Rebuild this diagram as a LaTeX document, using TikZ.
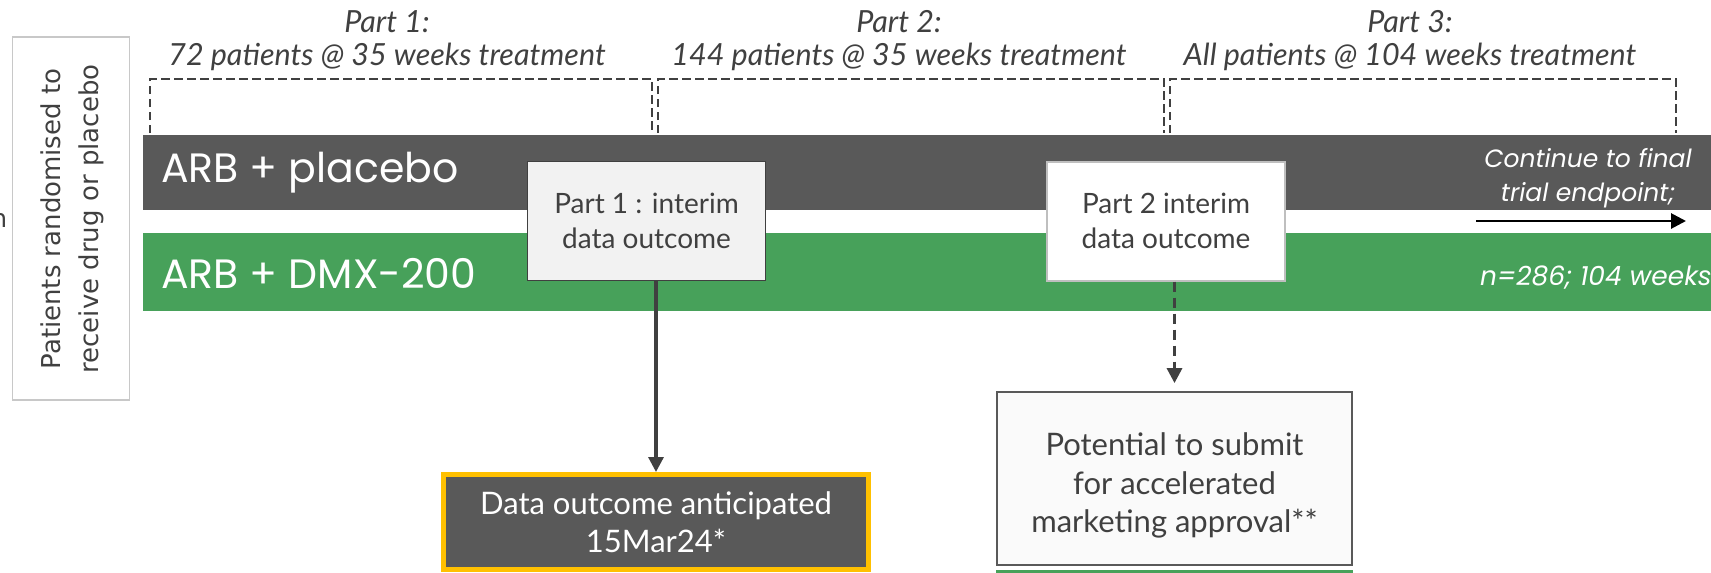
\documentclass[tikz,border=0pt]{standalone}
\usepackage{fontspec}
\setmainfont{Lato}
\newfontfamily\poppins{Poppins}
\newfontfamily\dejavu{DejaVu Sans}
\usetikzlibrary{arrows.meta,calc}
\definecolor{darkbar}{HTML}{595959}
\definecolor{greenbar}{RGB}{71,161,90}
\definecolor{txtgray}{HTML}{404040}
\definecolor{lightbox}{HTML}{F2F2F2}
\definecolor{paleborder}{HTML}{BFBFBF}
\definecolor{leftborder}{HTML}{C8C8C8}
\definecolor{potfill}{HTML}{FAFAFA}
\definecolor{amber}{HTML}{FFC000}
\tikzset{
  barbox/.style={anchor=north west, minimum width=1600, minimum height=75, inner sep=0, draw=none},
  bartext/.style={anchor=west, text=white, inner sep=0, font=\poppins\fontsize{41}{41}\selectfont},
  toplabel/.style={text=txtgray, inner sep=0, font=\itshape\fontsize{30.5}{30}\selectfont},
  bracket/.style={draw=txtgray, line width=2.1pt, dash pattern=on 8.5pt off 4.5pt},
  interim/.style={align=center, text=txtgray, inner sep=0, font=\fontsize{28}{35}\selectfont},
  conn/.style={draw=txtgray, line width=3.2pt, -{Triangle[length=15pt,width=15pt]}},
  whiteit/.style={text=white, inner sep=0, font=\poppins\itshape\fontsize{25}{34}\selectfont, align=center}
}
\begin{document}
\begin{tikzpicture}[x=1pt,y=-1pt]
\useasboundingbox (0,0) rectangle (1711,573);
% fragment at the left edge
\node[anchor=base east, inner sep=0, text=txtgray, font=\dejavu\fontsize{25}{25}\selectfont] (frag) at (7.5,227) {n};
% left box
\node[draw=leftborder, line width=1.5pt, minimum width=117, minimum height=363, inner sep=0] (leftbox) at (71,218.5) {};
\node[rotate=90, align=center, text=txtgray, inner sep=0, font=\dejavu\fontsize{26}{38}\selectfont] (lefttext) at (72,219) {Patients randomised to\\receive drug or placebo};
% bars
\node[barbox, fill=darkbar] (placebo) at (143,135) {};
\node[barbox, fill=greenbar, minimum height=78] (dmx) at (143,233) {};
\node[bartext] (placebotext) at (161,173) {ARB + placebo};
\node[bartext] (dmxtext) at (161,273) {ARB + DMX-200};
% top labels
\node[toplabel] (p1a) at (387,22) {Part 1:};
\node[toplabel] (p1b) at (387,57) {72 patients @ 35 weeks treatment};
\node[toplabel] (p2a) at (899,22) {Part 2:};
\node[toplabel] (p2b) at (899,57) {144 patients @ 35 weeks treatment};
\node[toplabel] (p3a) at (1410,22) {Part 3:};
\node[toplabel] (p3b) at (1410,57) {All patients @ 104 weeks treatment};
% brackets
\draw[bracket] (150,133) -- (150,79) -- (652,79) -- (652,133);
\draw[bracket] (658,133) -- (658,79) -- (1164,79) -- (1164,133);
\draw[bracket] (1170,133) -- (1170,79) -- (1676,79) -- (1676,133);
% interim boxes
\node[interim, fill=lightbox, draw=txtgray, line width=1.8pt, minimum width=238, minimum height=119] (p1box) at (646.5,221) {Part 1 : interim\\data outcome};
\node[interim, fill=white, draw=paleborder, line width=2pt, minimum width=238, minimum height=119] (p2box) at (1166,221) {Part 2 interim\\data outcome};
% outcome boxes
\node[align=center, text=white, fill=darkbar, draw=amber, line width=5pt, minimum width=425, minimum height=95, inner sep=0, font=\fontsize{31}{38}\selectfont] (dataout) at (656,522) {Data outcome anticipated\\15Mar24*};
\node[fill=potfill, draw=darkbar, line width=1.8pt, minimum width=355, minimum height=173, inner sep=0] (pot) at (1174.5,478.5) {};
\node[interim, font=\fontsize{31}{38.5}\selectfont] (pottext) at ($(pot.center)+(0,7)$) {Potential to submit\\for accelerated\\marketing approval**};
\draw[draw=greenbar, line width=3pt] ($(pot.south west)+(0,6)$) -- ($(pot.south east)+(0,6)$);
% connectors
\draw[conn] (dataout.north |- p1box.south) -- (dataout.north);
\draw[conn, dash pattern=on 10pt off 6pt, shorten >=8pt] (pot.north |- p2box.south) -- (pot.north);
% continue
\node[whiteit] (cont) at (1588,178) {Continue to final\\trial endpoint;};
\coordinate (ca) at (1476,221);
\coordinate (cb) at (1686,221);
\draw[line width=2.8pt, black, -{Triangle[length=15pt,width=15pt]}] (ca) -- (cb);
\node[whiteit, anchor=west, font=\poppins\itshape\fontsize{26.5}{34}\selectfont] (nweeks) at (1480,278) {n=286; 104 weeks};
\end{tikzpicture}
\end{document}
